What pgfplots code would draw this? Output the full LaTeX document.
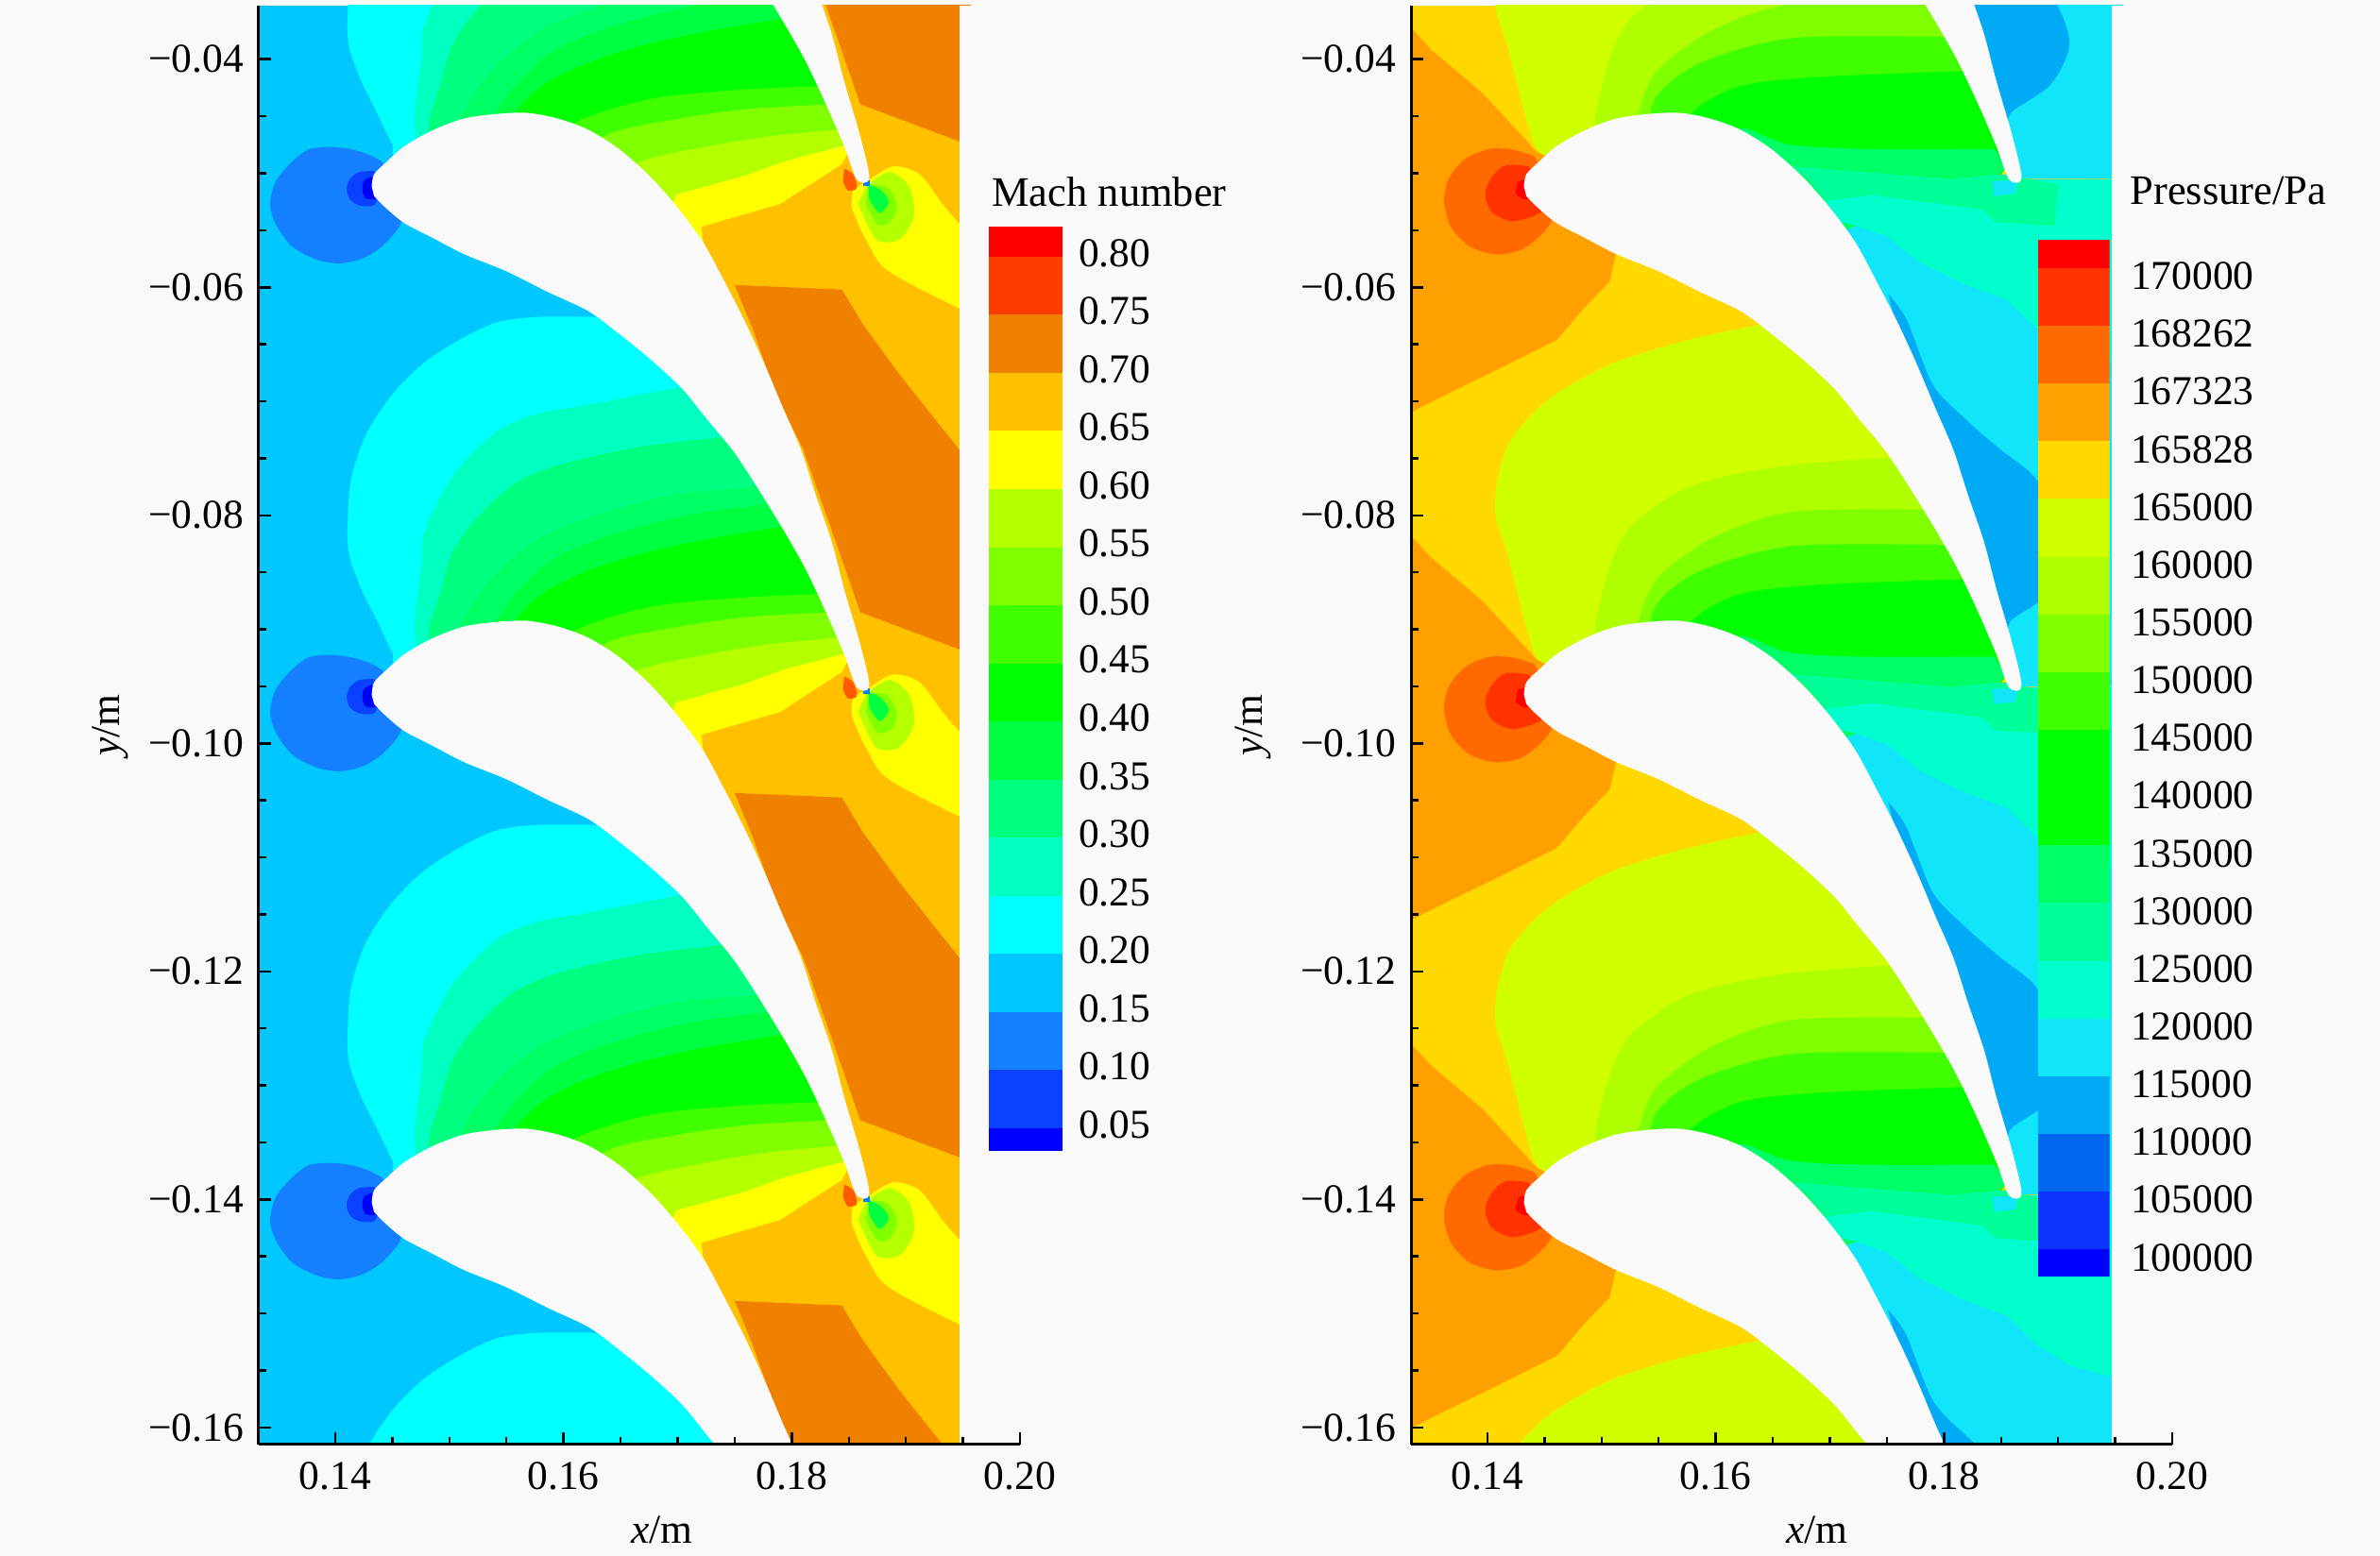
\documentclass[border=0pt]{standalone}
\usepackage{fontspec}
\setmainfont{Liberation Serif}
\usepackage{pgfplots}
\usepackage{pgfplotstable}
\pgfplotsset{compat=1.18}
\definecolor{bg}{HTML}{F9F9F9}
\newcommand{\rd}[2]{\pgfplotstableread[row sep=\\,header=false]{#1}#2}
% one tile of the periodic field, repeated at each blade pitch
\newcommand{\tile}[2]{%
  \addplot[fill=#1,draw=none] table[x index=0,y expr=\thisrowno{1}+0.04455]{#2};
  \addplot[fill=#1,draw=none] table[x index=0,y index=1]{#2};
  \addplot[fill=#1,draw=none] table[x index=0,y expr=\thisrowno{1}-0.04455]{#2};
  \addplot[fill=#1,draw=none] table[x index=0,y expr=\thisrowno{1}-0.0891]{#2};
}
\newcommand{\stile}[2]{%
  \addplot[fill=#1,draw=none,smooth,tension=0.5] table[x index=0,y expr=\thisrowno{1}+0.04455]{#2};
  \addplot[fill=#1,draw=none,smooth,tension=0.5] table[x index=0,y index=1]{#2};
  \addplot[fill=#1,draw=none,smooth,tension=0.5] table[x index=0,y expr=\thisrowno{1}-0.04455]{#2};
  \addplot[fill=#1,draw=none,smooth,tension=0.5] table[x index=0,y expr=\thisrowno{1}-0.0891]{#2};
}
\newcommand{\band}[3]{\addplot[fill=#1,draw=none] coordinates {(0,#2)(1,#2)(1,#3)(0,#3)};}

% blade outline
\rd{0.1432 -0.0512\\0.1434 -0.0501\\0.1445 -0.0490\\0.1461 -0.0476\\0.1486 -0.0462\\0.1513 -0.0452\\0.1541 -0.0448\\0.1568 -0.0447\\0.1595 -0.0452\\0.1622 -0.0462\\0.1649 -0.0479\\0.1676 -0.0503\\0.1699 -0.0529\\0.1722 -0.0560\\0.1740 -0.0593\\0.1758 -0.0628\\0.1776 -0.0667\\0.1792 -0.0705\\0.1808 -0.0742\\0.1821 -0.0782\\0.1835 -0.0823\\0.1846 -0.0865\\0.1860 -0.0913\\0.1868 -0.0950\\0.1857 -0.0951\\0.1846 -0.0922\\0.1830 -0.0885\\0.1812 -0.0847\\0.1794 -0.0815\\0.1772 -0.0779\\0.1749 -0.0744\\0.1726 -0.0716\\0.1704 -0.0689\\0.1676 -0.0663\\0.1649 -0.0641\\0.1622 -0.0621\\0.1586 -0.0604\\0.1550 -0.0586\\0.1513 -0.0571\\0.1486 -0.0557\\0.1461 -0.0544\\0.1445 -0.0531\\0.1434 -0.0520\\}{\blade}

% Mach number: passage bands
\rd{0.1633 -0.0626\\0.1577 -0.0626\\0.1541 -0.0631\\0.1509 -0.0646\\0.1477 -0.0667\\0.1450 -0.0694\\0.1427 -0.0729\\0.1414 -0.0768\\0.1411 -0.0804\\0.1412 -0.0834\\0.1423 -0.0865\\0.1436 -0.0891\\0.1450 -0.0920\\0.1461 -0.0935\\0.1577 -0.0962\\0.1713 -0.1049\\0.1855 -0.0940\\0.1840 -0.0874\\0.1817 -0.0830\\0.1799 -0.0786\\0.1776 -0.0742\\0.1749 -0.0698\\0.1713 -0.0654\\0.1667 -0.0632\\}{\mA}
\rd{0.1704 -0.0687\\0.1622 -0.0703\\0.1577 -0.0711\\0.1541 -0.0727\\0.1504 -0.0764\\0.1479 -0.0812\\0.1476 -0.0839\\0.1476 -0.0926\\0.1577 -0.0962\\0.1713 -0.1049\\0.1855 -0.0940\\0.1840 -0.0874\\0.1817 -0.0830\\0.1799 -0.0786\\0.1776 -0.0742\\0.1749 -0.0698\\}{\mB}
\rd{0.1744 -0.0731\\0.1667 -0.0740\\0.1599 -0.0755\\0.1559 -0.0771\\0.1527 -0.0799\\0.1504 -0.0830\\0.1493 -0.0865\\0.1486 -0.0918\\0.1577 -0.0962\\0.1713 -0.1049\\0.1855 -0.0940\\0.1840 -0.0874\\0.1817 -0.0830\\0.1799 -0.0786\\0.1776 -0.0742\\}{\mC}
\rd{0.1772 -0.0775\\0.1695 -0.0782\\0.1631 -0.0799\\0.1581 -0.0819\\0.1545 -0.0847\\0.1520 -0.0878\\0.1511 -0.0913\\0.1577 -0.0962\\0.1713 -0.1049\\0.1855 -0.0940\\0.1840 -0.0874\\0.1817 -0.0830\\0.1799 -0.0786\\}{\mD}
\rd{0.1781 -0.0790\\0.1713 -0.0799\\0.1649 -0.0815\\0.1595 -0.0836\\0.1563 -0.0863\\0.1543 -0.0889\\0.1532 -0.0918\\0.1577 -0.0962\\0.1713 -0.1049\\0.1855 -0.0940\\0.1840 -0.0874\\0.1817 -0.0830\\0.1799 -0.0786\\}{\mE}
\rd{0.1792 -0.0810\\0.1726 -0.0821\\0.1667 -0.0834\\0.1618 -0.0850\\0.1581 -0.0869\\0.1559 -0.0891\\0.1550 -0.0918\\0.1577 -0.0962\\0.1713 -0.1049\\0.1855 -0.0940\\0.1840 -0.0874\\0.1817 -0.0830\\}{\mF}
\rd{0.1826 -0.0869\\0.1758 -0.0872\\0.1690 -0.0878\\0.1649 -0.0887\\0.1609 -0.0902\\0.1595 -0.0927\\0.1713 -0.1049\\0.1855 -0.0940\\0.1840 -0.0874\\}{\mG}
\rd{0.1837 -0.0885\\0.1763 -0.0889\\0.1699 -0.0898\\0.1640 -0.0911\\0.1631 -0.0935\\0.1713 -0.1049\\0.1855 -0.0940\\}{\mH}
\rd{0.1844 -0.0907\\0.1781 -0.0913\\0.1726 -0.0922\\0.1663 -0.0937\\0.1658 -0.0962\\0.1713 -0.1049\\0.1855 -0.0940\\}{\mI}
\rd{0.1851 -0.0920\\0.1794 -0.0935\\0.1758 -0.0948\\0.1699 -0.0964\\0.1690 -0.0984\\0.1713 -0.1049\\0.1855 -0.0940\\}{\mJ}
% Mach number: outlet side
\rd{0.1721 -0.0547\\0.1790 -0.0527\\0.1844 -0.0492\\0.1851 -0.0479\\0.1860 -0.0439\\0.1948 -0.0472\\0.1957 -0.0472\\0.1957 -0.0918\\0.1860 -0.0918\\0.1826 -0.0830\\0.1799 -0.0742\\0.1767 -0.0667\\0.1751 -0.0628\\0.1731 -0.0584\\0.1722 -0.0558\\}{\mK}
\rd{0.1750 -0.0598\\0.1844 -0.0602\\0.1862 -0.0632\\0.1894 -0.0676\\0.1948 -0.0744\\0.1957 -0.0744\\0.1957 -0.0918\\0.1948 -0.0918\\0.1860 -0.0885\\0.1841 -0.0830\\0.1810 -0.0742\\0.1786 -0.0694\\0.1766 -0.0637\\}{\mL}
% Mach number: trailing edge wake
\rd{0.1854 -0.0514\\0.1853 -0.0531\\0.1867 -0.0562\\0.1885 -0.0586\\0.1948 -0.0619\\0.1957 -0.0619\\0.1957 -0.0545\\0.1948 -0.0545\\0.1932 -0.0527\\0.1912 -0.0501\\0.1889 -0.0494\\0.1869 -0.0505\\}{\mM}
\rd{0.1858 -0.0527\\0.1867 -0.0510\\0.1886 -0.0499\\0.1903 -0.0512\\0.1907 -0.0538\\0.1894 -0.0558\\0.1875 -0.0559\\0.1864 -0.0540\\}{\mN}
\rd{0.1867 -0.0510\\0.1883 -0.0512\\0.1892 -0.0527\\0.1887 -0.0542\\0.1875 -0.0545\\0.1865 -0.0527\\}{\mO}
\rd{0.1867 -0.0510\\0.1877 -0.0514\\0.1885 -0.0525\\0.1877 -0.0535\\0.1868 -0.0523\\}{\mP}
\rd{0.1863 -0.0506\\0.1868 -0.0506\\0.1868 -0.0511\\0.1863 -0.0511\\}{\mQ}
\rd{0.1846 -0.0496\\0.1854 -0.0501\\0.1857 -0.0513\\0.1849 -0.0515\\0.1845 -0.0507\\}{\mR}
% bottom passage stays below the aqua level
\rd{0.1520 -0.1620\\0.1780 -0.1620\\0.1730 -0.1530\\0.1630 -0.1525\\}{\mV}
% Mach number: leading edge stagnation
\rd{0.1441 -0.0490\\0.1430 -0.0484\\0.1414 -0.0479\\0.1396 -0.0477\\0.1377 -0.0479\\0.1362 -0.0490\\0.1348 -0.0507\\0.1343 -0.0527\\0.1348 -0.0545\\0.1362 -0.0564\\0.1382 -0.0575\\0.1402 -0.0579\\0.1423 -0.0575\\0.1441 -0.0564\\0.1457 -0.0545\\0.1461 -0.0523\\}{\mS}
\rd{0.1434 -0.0498\\0.1421 -0.0499\\0.1413 -0.0505\\0.1410 -0.0514\\0.1413 -0.0523\\0.1421 -0.0528\\0.1434 -0.0528\\0.1441 -0.0514\\}{\mT}
\rd{0.1432 -0.0503\\0.1425 -0.0507\\0.1424 -0.0516\\0.1427 -0.0522\\0.1436 -0.0522\\0.1441 -0.0514\\}{\mU}

% Pressure: inlet side
\rd{0.1330 -0.0369\\0.1350 -0.0391\\0.1396 -0.0430\\0.1443 -0.0481\\0.1532 -0.0523\\0.1513 -0.0569\\0.1507 -0.0595\\0.1484 -0.0619\\0.1461 -0.0646\\0.1409 -0.0672\\0.1364 -0.0694\\0.1330 -0.0711\\}{\pO}
\rd{0.1441 -0.0485\\0.1421 -0.0479\\0.1400 -0.0479\\0.1380 -0.0488\\0.1366 -0.0505\\0.1362 -0.0525\\0.1368 -0.0547\\0.1384 -0.0564\\0.1407 -0.0571\\0.1430 -0.0567\\0.1448 -0.0553\\0.1457 -0.0540\\0.1461 -0.0518\\}{\pA}
\rd{0.1436 -0.0494\\0.1416 -0.0493\\0.1404 -0.0503\\0.1398 -0.0518\\0.1404 -0.0534\\0.1421 -0.0542\\0.1439 -0.0538\\0.1450 -0.0531\\0.1450 -0.0514\\}{\pB}
\rd{0.1427 -0.0507\\0.1425 -0.0518\\0.1434 -0.0523\\0.1441 -0.0514\\0.1436 -0.0505\\}{\pC}
% Pressure: passage bands
\rd{0.1642 -0.0632\\0.1577 -0.0646\\0.1509 -0.0667\\0.1454 -0.0698\\0.1421 -0.0733\\0.1409 -0.0768\\0.1407 -0.0799\\0.1418 -0.0836\\0.1434 -0.0898\\0.1443 -0.0924\\0.1461 -0.0935\\0.1577 -0.0962\\0.1713 -0.1049\\0.1855 -0.0940\\0.1840 -0.0874\\0.1817 -0.0830\\0.1799 -0.0786\\0.1776 -0.0742\\0.1749 -0.0698\\0.1713 -0.0654\\0.1667 -0.0632\\}{\pD}
\rd{0.1758 -0.0749\\0.1658 -0.0757\\0.1577 -0.0775\\0.1522 -0.0814\\0.1500 -0.0871\\0.1500 -0.0913\\0.1577 -0.0962\\0.1713 -0.1049\\0.1855 -0.0940\\0.1840 -0.0874\\0.1817 -0.0830\\0.1799 -0.0786\\0.1776 -0.0742\\}{\pE}
\rd{0.1783 -0.0795\\0.1667 -0.0797\\0.1599 -0.0819\\0.1550 -0.0854\\0.1534 -0.0887\\0.1532 -0.0918\\0.1577 -0.0962\\0.1713 -0.1049\\0.1855 -0.0940\\0.1840 -0.0874\\0.1817 -0.0830\\0.1799 -0.0786\\}{\pF}
\rd{0.1801 -0.0826\\0.1667 -0.0827\\0.1586 -0.0849\\0.1547 -0.0880\\0.1545 -0.0918\\0.1577 -0.0962\\0.1713 -0.1049\\0.1855 -0.0940\\0.1840 -0.0874\\0.1817 -0.0830\\}{\pG}
\rd{0.1817 -0.0856\\0.1690 -0.0861\\0.1622 -0.0869\\0.1581 -0.0891\\0.1577 -0.0918\\0.1713 -0.1049\\0.1855 -0.0940\\0.1840 -0.0874\\}{\pH}
\rd{0.1844 -0.0924\\0.1726 -0.0924\\0.1663 -0.0920\\0.1622 -0.0906\\0.1618 -0.0935\\0.1713 -0.1049\\0.1855 -0.0940\\}{\pI}
% Pressure: outlet side
\rd{0.1869 -0.0505\\0.1957 -0.0505\\0.1957 -0.0950\\0.1867 -0.0950\\0.1860 -0.0931\\0.1840 -0.0874\\0.1817 -0.0808\\0.1785 -0.0698\\0.1740 -0.0610\\0.1704 -0.0553\\0.1859 -0.0499\\}{\pJ}
\rd{0.1696 -0.0524\\0.1737 -0.0519\\0.1834 -0.0532\\0.1871 -0.0506\\0.1957 -0.0505\\0.1957 -0.0664\\0.1944 -0.0664\\0.1911 -0.0655\\0.1883 -0.0638\\0.1855 -0.0611\\0.1817 -0.0597\\0.1778 -0.0578\\0.1751 -0.0556\\0.1720 -0.0545\\0.1695 -0.0540\\}{\pK}
\rd{0.1667 -0.0494\\0.1806 -0.0505\\0.1851 -0.0501\\0.1900 -0.0510\\0.1897 -0.0546\\0.1845 -0.0543\\0.1834 -0.0532\\0.1737 -0.0519\\0.1696 -0.0524\\0.1681 -0.0505\\}{\pL}
\rd{0.1842 -0.0507\\0.1865 -0.0506\\0.1862 -0.0518\\0.1844 -0.0520\\}{\pM}
\rd{0.1751 -0.0606\\0.1767 -0.0628\\0.1790 -0.0685\\0.1817 -0.0714\\0.1849 -0.0742\\0.1877 -0.0764\\0.1898 -0.0795\\0.1910 -0.0832\\0.1894 -0.0867\\0.1860 -0.0891\\0.1855 -0.0900\\0.1844 -0.0865\\0.1805 -0.0786\\0.1785 -0.0698\\0.1758 -0.0632\\}{\pN}

\pgfplotsset{
  fld/.style={
    scale only axis,width=161.2pt,height=304.8pt,
    xmin=0.1333,xmax=0.2,ymin=-0.1615,ymax=-0.0353,
    axis x line=bottom,axis y line=left,
    axis line style={-,line width=0.6pt,black},
    tick align=inside,
    tick style={black,line width=0.5pt},
    major tick length=2.6pt,minor tick length=1.6pt,
    xtick={0.14,0.16,0.18,0.20},xticklabels={0.14,0.16,0.18,0.20},
    ytick={-0.16,-0.14,-0.12,-0.10,-0.08,-0.06,-0.04},
    yticklabels={−0.16,−0.14,−0.12,−0.10,−0.08,−0.06,−0.04},
    minor x tick num=3,minor y tick num=3,
    yticklabel style={inner sep=3pt},
    xticklabel style={inner sep=3.6pt},
    axis on top,
    font=\fontsize{8.7}{10}\selectfont,
  },
  bar/.style={
    scale only axis,
    hide x axis,xmin=0,xmax=1,
    axis y line=right,axis line style={draw=none},
    major tick length=0pt,
    font=\fontsize{8.7}{10}\selectfont,
    title style={anchor=center,inner sep=0pt,font=\fontsize{8.9}{10}\selectfont},
  },
}

\begin{document}
\begin{tikzpicture}
\path[use as bounding box] (0,0) rectangle (504pt,329.6pt);
\fill[bg] (0,0) rectangle (504pt,329.6pt);

% left panel: Mach number
\begin{axis}[fld,at={(54.8pt,23.6pt)},
  xlabel={\textit{x}/m},ylabel={\textit{y}/m},
  xlabel style={at={(axis description cs:0.53,-0.059)},anchor=center,inner sep=0pt},
  ylabel style={at={(axis description cs:-0.195,0.5)},anchor=center,inner sep=0pt}]
\addplot[fill={rgb,255:red,0;green,200;blue,255},draw=none] coordinates {(0.1333,-0.1615)(0.1947,-0.1615)(0.1947,-0.0353)(0.1333,-0.0353)};
\stile{{rgb,255:red,0;green,255;blue,255}}{\mA}
\stile{{rgb,255:red,0;green,255;blue,192}}{\mB}
\stile{{rgb,255:red,0;green,255;blue,128}}{\mC}
\stile{{rgb,255:red,0;green,255;blue,100}}{\mD}
\stile{{rgb,255:red,0;green,255;blue,64}}{\mE}
\stile{{rgb,255:red,0;green,255;blue,0}}{\mF}
\stile{{rgb,255:red,64;green,255;blue,0}}{\mG}
\stile{{rgb,255:red,128;green,255;blue,0}}{\mH}
\stile{{rgb,255:red,180;green,255;blue,0}}{\mI}
\tile{{rgb,255:red,255;green,255;blue,0}}{\mJ}
\addplot[fill={rgb,255:red,0;green,255;blue,255},draw=none] table[x index=0,y index=1]{\mV};
\tile{{rgb,255:red,255;green,192;blue,0}}{\mK}
\tile{{rgb,255:red,240;green,128;blue,0}}{\mL}
\stile{{rgb,255:red,255;green,255;blue,0}}{\mM}
\stile{{rgb,255:red,180;green,255;blue,0}}{\mN}
\stile{{rgb,255:red,128;green,255;blue,0}}{\mO}
\stile{{rgb,255:red,0;green,255;blue,64}}{\mP}
\tile{{rgb,255:red,0;green,128;blue,255}}{\mQ}
\stile{{rgb,255:red,255;green,90;blue,0}}{\mR}
\stile{{rgb,255:red,20;green,128;blue,255}}{\mS}
\stile{{rgb,255:red,10;green,64;blue,255}}{\mT}
\stile{{rgb,255:red,0;green,0;blue,255}}{\mU}
\stile{bg}{\blade}
\addplot[fill=bg,draw=none] coordinates {(0.1947,-0.1615)(0.2,-0.1615)(0.2,-0.0353)(0.1947,-0.0353)};
\end{axis}

% left legend
\begin{axis}[bar,at={(209.4pt,85.8pt)},width=15.6pt,height=195.8pt,
  ymin=0.0272,ymax=0.823,
  tick label style={inner sep=3.2pt},
  ytick={0.05,0.10,0.15,0.20,0.25,0.30,0.35,0.40,0.45,0.50,0.55,0.60,0.65,0.70,0.75,0.80},
  yticklabels={0.05,0.10,0.15,0.20,0.25,0.30,0.35,0.40,0.45,0.50,0.55,0.60,0.65,0.70,0.75,0.80},
  title={Mach number},title style={at={(axis description cs:1.635,1.0064)}}]
\band{{rgb,255:red,0;green,0;blue,255}}{0.0272}{0.047}
\band{{rgb,255:red,10;green,64;blue,255}}{0.047}{0.097}
\band{{rgb,255:red,20;green,128;blue,255}}{0.097}{0.147}
\band{{rgb,255:red,0;green,200;blue,255}}{0.147}{0.197}
\band{{rgb,255:red,0;green,255;blue,255}}{0.197}{0.247}
\band{{rgb,255:red,0;green,255;blue,192}}{0.247}{0.297}
\band{{rgb,255:red,0;green,255;blue,128}}{0.297}{0.347}
\band{{rgb,255:red,0;green,255;blue,64}}{0.347}{0.397}
\band{{rgb,255:red,0;green,255;blue,0}}{0.397}{0.447}
\band{{rgb,255:red,64;green,255;blue,0}}{0.447}{0.497}
\band{{rgb,255:red,128;green,255;blue,0}}{0.497}{0.547}
\band{{rgb,255:red,180;green,255;blue,0}}{0.547}{0.597}
\band{{rgb,255:red,255;green,255;blue,0}}{0.597}{0.647}
\band{{rgb,255:red,255;green,192;blue,0}}{0.647}{0.697}
\band{{rgb,255:red,240;green,128;blue,0}}{0.697}{0.747}
\band{{rgb,255:red,255;green,60;blue,0}}{0.747}{0.797}
\band{{rgb,255:red,255;green,0;blue,0}}{0.797}{0.823}
\end{axis}

% right panel: pressure
\begin{axis}[fld,at={(298.8pt,23.6pt)},
  xlabel={\textit{x}/m},ylabel={\textit{y}/m},
  xlabel style={at={(axis description cs:0.533,-0.059)},anchor=center,inner sep=0pt},
  ylabel style={at={(axis description cs:-0.208,0.5)},anchor=center,inner sep=0pt}]
\addplot[fill={rgb,255:red,255;green,216;blue,0},draw=none] coordinates {(0.1333,-0.1615)(0.1947,-0.1615)(0.1947,-0.0353)(0.1333,-0.0353)};
\stile{{rgb,255:red,208;green,255;blue,0}}{\pD}
\stile{{rgb,255:red,176;green,255;blue,0}}{\pE}
\stile{{rgb,255:red,128;green,255;blue,0}}{\pF}
\stile{{rgb,255:red,64;green,255;blue,0}}{\pG}
\stile{{rgb,255:red,0;green,255;blue,0}}{\pH}
\stile{{rgb,255:red,0;green,255;blue,102}}{\pI}
\tile{{rgb,255:red,16;green,229;blue,250}}{\pJ}
\tile{{rgb,255:red,0;green,255;blue,204}}{\pK}
\tile{{rgb,255:red,0;green,255;blue,153}}{\pL}
\tile{{rgb,255:red,16;green,229;blue,250}}{\pM}
\stile{{rgb,255:red,0;green,170;blue,245}}{\pN}
\tile{{rgb,255:red,255;green,160;blue,0}}{\pO}
\stile{{rgb,255:red,255;green,106;blue,0}}{\pA}
\stile{{rgb,255:red,255;green,51;blue,0}}{\pB}
\stile{{rgb,255:red,255;green,0;blue,0}}{\pC}
\stile{bg}{\blade}
\addplot[fill=bg,draw=none] coordinates {(0.1947,-0.1615)(0.2,-0.1615)(0.2,-0.0353)(0.1947,-0.0353)};
\end{axis}

% right legend
\begin{axis}[bar,at={(431.6pt,59.2pt)},width=15.1pt,height=219.6pt,
  ymin=-0.33,ymax=17.63,
  tick label style={inner sep=4.3pt},
  ytick={0,1,...,17},
  yticklabels={100000,105000,110000,115000,120000,125000,130000,135000,140000,145000,150000,155000,160000,165000,165828,167323,168262,170000},
  title={Pressure/Pa},title style={at={(axis description cs:2.666,1.0197)}}]
\band{{rgb,255:red,0;green,0;blue,255}}{-0.33}{0.14}
\band{{rgb,255:red,13;green,51;blue,255}}{0.14}{1.14}
\band{{rgb,255:red,0;green,102;blue,238}}{1.14}{2.14}
\band{{rgb,255:red,0;green,170;blue,245}}{2.14}{3.14}
\band{{rgb,255:red,16;green,229;blue,250}}{3.14}{4.14}
\band{{rgb,255:red,0;green,255;blue,204}}{4.14}{5.14}
\band{{rgb,255:red,0;green,255;blue,153}}{5.14}{6.14}
\band{{rgb,255:red,0;green,255;blue,102}}{6.14}{7.14}
\band{{rgb,255:red,0;green,255;blue,0}}{7.14}{9.14}
\band{{rgb,255:red,64;green,255;blue,0}}{9.14}{10.14}
\band{{rgb,255:red,128;green,255;blue,0}}{10.14}{11.14}
\band{{rgb,255:red,176;green,255;blue,0}}{11.14}{12.14}
\band{{rgb,255:red,208;green,255;blue,0}}{12.14}{13.14}
\band{{rgb,255:red,255;green,216;blue,0}}{13.14}{14.14}
\band{{rgb,255:red,255;green,160;blue,0}}{14.14}{15.14}
\band{{rgb,255:red,255;green,106;blue,0}}{15.14}{16.14}
\band{{rgb,255:red,255;green,51;blue,0}}{16.14}{17.14}
\band{{rgb,255:red,255;green,0;blue,0}}{17.14}{17.63}
\end{axis}
\end{tikzpicture}
\end{document}
